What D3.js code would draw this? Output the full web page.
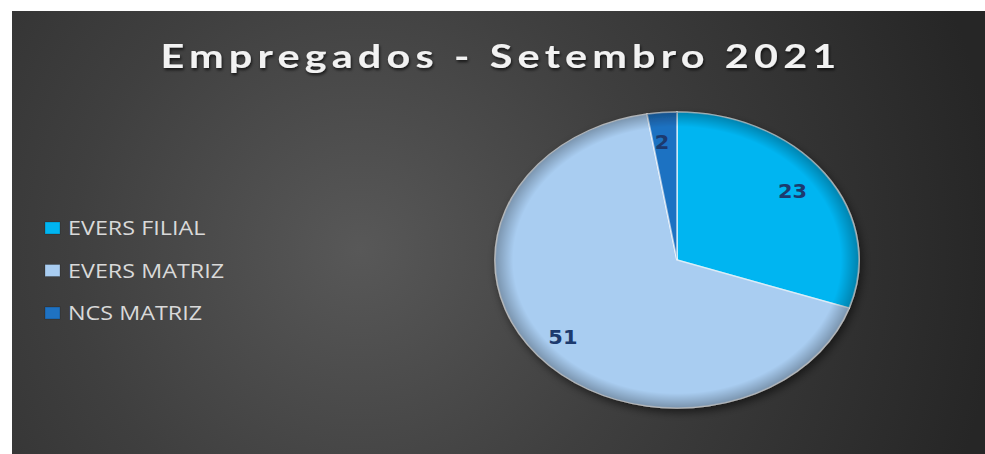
<!DOCTYPE html>
<html>
<head>
<meta charset="utf-8">
<script src="https://cdn.jsdelivr.net/npm/d3@7"></script>
<style>
  html, body { margin: 0; padding: 0; background: #ffffff; }
  svg { display: block; }
</style>
</head>
<body>
<svg id="chart" width="985" height="454"></svg>
<script>
const title = 'Empregados - Setembro 2021';
const categories = ['EVERS FILIAL', 'EVERS MATRIZ', 'NCS MATRIZ'];
const values = [23, 51, 2];
const colors = ['#00b5f1', '#a9cdf1', '#1f72c2'];

const data = categories.map((c, i) => ({ name: c, value: values[i], color: colors[i] }));

const svg = d3.select('#chart');
const width = +svg.attr('width');
const height = +svg.attr('height');

// the original picture is stretched sideways, so the pie is an ellipse
const ry = 148;
const rx = 182;
const sx = rx / ry;
const cx = 677;
const cy = 260;

const defs = svg.append('defs');

const bg = defs.append('radialGradient')
  .attr('id', 'bg')
  .attr('gradientUnits', 'userSpaceOnUse')
  .attr('cx', 360).attr('cy', 250).attr('r', 640);
bg.append('stop').attr('offset', '0%').attr('stop-color', '#585858');
bg.append('stop').attr('offset', '45%').attr('stop-color', '#3f3f3f');
bg.append('stop').attr('offset', '100%').attr('stop-color', '#262626');

const rim = defs.append('radialGradient')
  .attr('id', 'rim')
  .attr('gradientUnits', 'userSpaceOnUse')
  .attr('cx', 0).attr('cy', 0).attr('r', ry);
rim.append('stop').attr('offset', '0%').attr('stop-color', '#000').attr('stop-opacity', 0);
rim.append('stop').attr('offset', '90%').attr('stop-color', '#000').attr('stop-opacity', 0);
rim.append('stop').attr('offset', '100%').attr('stop-color', '#000').attr('stop-opacity', 0.28);

const shadow = defs.append('filter').attr('id', 'shadow')
  .attr('x', '-20%').attr('y', '-20%').attr('width', '140%').attr('height', '140%');
shadow.append('feDropShadow')
  .attr('dx', 2).attr('dy', 4).attr('stdDeviation', 4)
  .attr('flood-color', '#000').attr('flood-opacity', 0.55);

const textShadow = defs.append('filter').attr('id', 'tshadow')
  .attr('x', '-5%').attr('y', '-30%').attr('width', '110%').attr('height', '160%');
textShadow.append('feDropShadow')
  .attr('dx', 1).attr('dy', 2).attr('stdDeviation', 1.5)
  .attr('flood-color', '#000').attr('flood-opacity', 0.7);

// background panel
svg.append('rect')
  .attr('x', 12).attr('y', 11)
  .attr('width', width - 12).attr('height', height - 11)
  .attr('fill', 'url(#bg)');

// title
svg.append('text')
  .attr('x', 501).attr('y', 68)
  .attr('text-anchor', 'middle')
  .attr('font-family', "Lato, 'Open Sans', sans-serif")
  .attr('font-weight', 700)
  .attr('font-size', '32px')
  .attr('letter-spacing', '4px')
  .attr('textLength', 681)
  .attr('lengthAdjust', 'spacingAndGlyphs')
  .attr('fill', '#f2f2f2')
  .attr('filter', 'url(#tshadow)')
  .text(title);

// pie
const pie = d3.pie().sort(null).value(d => d.value);
const arcs = pie(data);
const arc = d3.arc().innerRadius(0).outerRadius(ry);
const labelArc = d3.arc().innerRadius(ry * 0.8).outerRadius(ry * 0.8);

const g = svg.append('g')
  .attr('transform', `translate(${cx},${cy})`);

const pieG = g.append('g')
  .attr('transform', `scale(${sx},1)`)
  .attr('filter', 'url(#shadow)');

pieG.selectAll('path.slice')
  .data(arcs)
  .enter()
  .append('path')
  .attr('class', 'slice')
  .attr('d', arc)
  .attr('fill', d => d.data.color)
  .attr('stroke', 'rgba(255,255,255,0.6)')
  .attr('stroke-width', 1.4);

pieG.selectAll('path.rim')
  .data(arcs)
  .enter()
  .append('path')
  .attr('class', 'rim')
  .attr('d', arc)
  .attr('fill', 'url(#rim)');

// value labels
g.selectAll('text.value')
  .data(arcs)
  .enter()
  .append('text')
  .attr('class', 'value')
  .attr('transform', d => {
    const [x, y] = labelArc.centroid(d);
    return `translate(${x * sx - 3},${y + 7}) scale(1.1,1)`;
  })
  .attr('text-anchor', 'middle')
  .attr('font-family', "'DejaVu Sans', Verdana, sans-serif")
  .attr('font-weight', 700)
  .attr('font-size', '19px')
  .attr('fill', '#1c3a6e')
  .text(d => d.value);

// legend
const yLegend = d3.scalePoint()
  .domain(categories)
  .range([228, 313]);

const legend = svg.append('g');

legend.selectAll('rect')
  .data(data)
  .enter()
  .append('rect')
  .attr('x', 45)
  .attr('y', d => yLegend(d.name) - 6)
  .attr('width', 15)
  .attr('height', 12)
  .attr('fill', d => d.color)
  .attr('stroke', 'rgba(0,0,0,0.25)')
  .attr('stroke-width', 0.8);

legend.selectAll('text')
  .data(data)
  .enter()
  .append('text')
  .attr('transform', d => `translate(68,${yLegend(d.name) + 7}) scale(${sx * 0.95},1)`)
  .attr('font-family', "'Open Sans', sans-serif")
  .attr('font-size', '20px')
  .attr('fill', '#d9d9d9')
  .text(d => d.name);
</script>
</body>
</html>
